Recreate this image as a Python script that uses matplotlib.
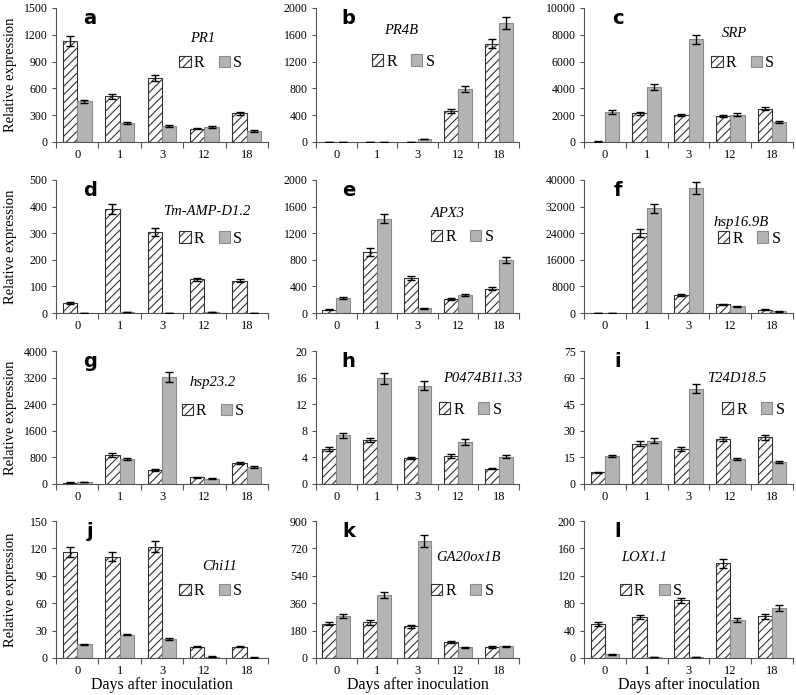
import numpy as np
import matplotlib.pyplot as plt
from matplotlib.patches import Patch

plt.rcParams['hatch.color'] = '#8a8a8a'
plt.rcParams['hatch.linewidth'] = 0.8

days = ['0', '1', '3', '12', '18']
letters = ['a', 'b', 'c', 'd', 'e', 'f', 'g', 'h', 'i', 'j', 'k', 'l']
genes = ['PR1', 'PR4B', 'SRP', 'Tm-AMP-D1.2', 'APX3', 'hsp16.9B',
         'hsp23.2', 'P0474B11.33', 'T24D18.5', 'Chi11', 'GA20ox1B', 'LOX1.1']
ymax = [1500, 2000, 10000, 500, 2000, 40000, 4000, 20, 75, 150, 900, 200]
ystep = [300, 400, 2000, 100, 400, 8000, 800, 4, 15, 30, 180, 40]

r_vals = [
    [1130, 510, 715, 150, 320],
    [5, 5, 3, 470, 1470],
    [30, 2130, 2030, 1950, 2480],
    [37, 390, 305, 126, 122],
    [50, 920, 530, 210, 365],
    [0, 24000, 5500, 2600, 1000],
    [40, 870, 420, 210, 640],
    [5.3, 6.6, 3.85, 4.2, 2.3],
    [6.6, 22.8, 19.8, 25.2, 26.3],
    [116, 111, 122, 12.5, 12.5],
    [225, 235, 208, 105, 72],
    [50, 60, 84, 138, 61],
]
r_err = [
    [55, 25, 35, 10, 20],
    [2, 2, 1, 30, 70],
    [10, 100, 90, 100, 120],
    [3, 18, 15, 7, 6],
    [10, 60, 30, 15, 20],
    [0, 1200, 300, 100, 100],
    [8, 50, 20, 15, 35],
    [0.3, 0.3, 0.15, 0.25, 0.1],
    [0.4, 1.2, 1.0, 1.2, 1.4],
    [5, 5, 6, 0.6, 0.5],
    [10, 15, 10, 5, 4],
    [3, 3, 4, 7, 3.5],
]
s_vals = [
    [455, 215, 175, 165, 125],
    [2, 5, 45, 790, 1780],
    [2230, 4100, 7650, 2030, 1500],
    [1, 3, 1, 4, 0.5],
    [220, 1420, 70, 270, 800],
    [0, 31500, 37500, 2000, 500],
    [60, 760, 3230, 165, 520],
    [7.3, 15.9, 14.8, 6.3, 4.1],
    [15.8, 24.5, 53.8, 14.3, 12.2],
    [15, 25.5, 20.5, 1.5, 0.5],
    [275, 415, 770, 70, 78],
    [5.5, 1, 1, 56, 73],
]
s_err = [
    [20, 12, 10, 12, 8],
    [1, 2, 5, 40, 90],
    [150, 200, 350, 100, 70],
    [0.5, 1, 0.5, 1, 0.3],
    [15, 70, 8, 12, 45],
    [0, 1300, 1800, 100, 50],
    [10, 30, 150, 10, 30],
    [0.35, 0.8, 0.7, 0.4, 0.2],
    [0.8, 1.2, 2.5, 0.6, 0.6],
    [0.6, 0.7, 1.0, 0.2, 0.1],
    [15, 20, 40, 4, 4],
    [0.4, 0.2, 0.2, 3, 4],
]

# text placement (axes fraction)
gene_xy = [(0.69, 0.77), (0.42, 0.83), (0.72, 0.81), (0.71, 0.76), (0.65, 0.75), (0.75, 0.68),
           (0.74, 0.76), (0.82, 0.79), (0.73, 0.79), (0.77, 0.67), (0.75, 0.73), (0.29, 0.73)]
leg_xy = [(0.73, 0.59), (0.43, 0.60), (0.76, 0.59), (0.73, 0.56), (0.72, 0.57), (0.79, 0.56),
          (0.74, 0.55), (0.76, 0.56), (0.81, 0.56), (0.73, 0.49), (0.72, 0.49), (0.32, 0.49)]

W, H = 796, 695
fig = plt.figure(figsize=(W / 100, H / 100), dpi=100)

lefts = [56, 316, 584]
widths = [212, 203, 209]
tops = [8, 180, 351, 521]
bottoms = [142, 313, 484, 658]

serif = 'Liberation Serif'
x = np.arange(5)
bw = 0.34

for k in range(12):
    row, col = divmod(k, 3)
    ax = fig.add_axes([lefts[col] / W, 1 - bottoms[row] / H,
                       widths[col] / W, (bottoms[row] - tops[row]) / H])
    ax.bar(x - bw / 2, r_vals[k], bw, color='white', edgecolor='#333333',
           hatch='////', linewidth=0.8, zorder=2)
    ax.bar(x + bw / 2, s_vals[k], bw, color='#b4b4b4', edgecolor='#8a8a8a',
           linewidth=0.8, zorder=2)
    ax.errorbar(x - bw / 2, r_vals[k], yerr=r_err[k], fmt='none', ecolor='black',
                elinewidth=1, capsize=3, capthick=1, zorder=3)
    ax.errorbar(x + bw / 2, s_vals[k], yerr=s_err[k], fmt='none', ecolor='black',
                elinewidth=1, capsize=3, capthick=1, zorder=3)

    ax.set_xlim(-0.5, 4.5)
    ax.set_ylim(0, ymax[k])
    ax.set_yticks(np.arange(0, ymax[k] + ystep[k] / 2, ystep[k]))
    ax.set_xticks(x)
    ax.set_xticklabels(days)
    ax.set_xticks(np.arange(-0.5, 5, 1), minor=True)
    ax.tick_params(axis='x', which='major', length=0, labelsize=9, pad=5)
    ax.tick_params(axis='x', which='minor', length=4, width=0.8, color='#555555')
    ax.tick_params(axis='y', length=3, width=0.8, color='#555555', labelsize=8.5, pad=3)
    for lab in ax.get_xticklabels() + ax.get_yticklabels():
        lab.set_fontfamily(serif)
    for s in ['top', 'right']:
        ax.spines[s].set_visible(False)
    for s in ['left', 'bottom']:
        ax.spines[s].set_color('#555555')
        ax.spines[s].set_linewidth(0.8)

    ax.text(0.16, 0.92, letters[k], transform=ax.transAxes, fontsize=14,
            fontweight='bold', family='DejaVu Sans', ha='center', va='center')
    ax.text(gene_xy[k][0], gene_xy[k][1], genes[k], transform=ax.transAxes,
            fontsize=10.5, style='italic', family=serif, ha='center', va='center')

    handles = [Patch(facecolor='white', edgecolor='#333333', hatch='////', linewidth=0.8),
               Patch(facecolor='#b4b4b4', edgecolor='#8a8a8a', linewidth=0.8)]
    ax.legend(handles, ['R', 'S'], loc='center', bbox_to_anchor=leg_xy[k], ncol=2,
              frameon=False, handlelength=0.7, handleheight=0.7, handletextpad=0.2,
              columnspacing=0.9, borderpad=0, prop={'family': serif, 'size': 11.5})

    if col == 0:
        ax.set_ylabel('Relative expression', family=serif, fontsize=10.5)
        ax.yaxis.set_label_coords((17 - lefts[0]) / widths[0], 0.5)
    if row == 3:
        ax.set_xlabel('Days after inoculation', family=serif, fontsize=11.5, labelpad=0)

fig.savefig('out.png', dpi=100)
